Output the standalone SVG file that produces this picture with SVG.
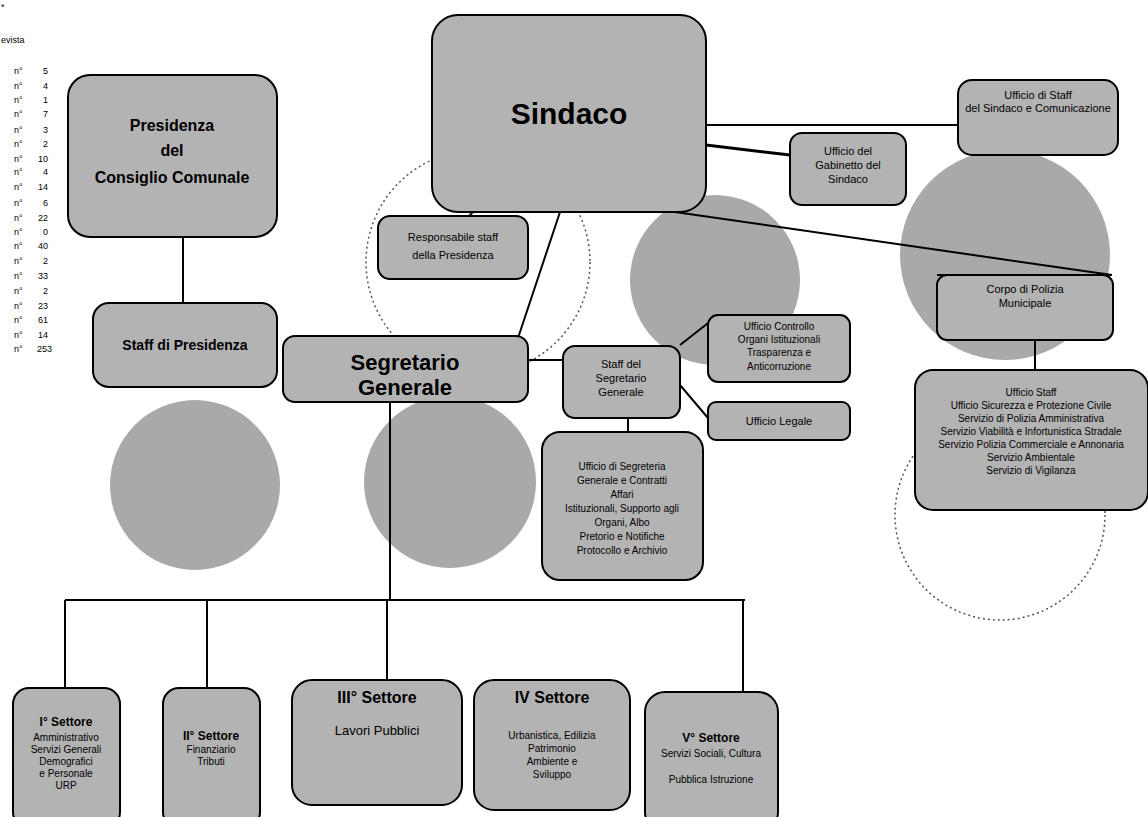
<svg xmlns="http://www.w3.org/2000/svg" width="1148" height="817" viewBox="0 0 1148 817">
<style>
.bx{fill:#b3b3b3;stroke:#000;stroke-width:2}
.blob{fill:#a9a9a9;stroke:none}
.ring{fill:none;stroke:#555;stroke-width:1.5;stroke-dasharray:2 3}
.c{stroke:#000;stroke-width:2;fill:none}
text{font-family:"Liberation Sans",Arial,sans-serif;fill:#000;text-anchor:middle}
.t1{font-size:30px;font-weight:bold}
.t2{font-size:22px;font-weight:bold}
.t3{font-size:16px;font-weight:bold}
.t4{font-size:11px}
.t5{font-size:10px}
.lg{font-size:9px;text-anchor:start}
.lr{font-size:9px;text-anchor:end}
</style>
<rect width="1148" height="817" fill="#fff"/>
<g id="legend">
<text class="lg" x="1" y="10">*</text>
<text class="lg" x="1" y="43">evista</text>
<text class="lg" x="14" y="74">n°</text><text class="lr" x="48" y="74">5</text>
<text class="lg" x="14" y="89">n°</text><text class="lr" x="48" y="89">4</text>
<text class="lg" x="14" y="103">n°</text><text class="lr" x="48" y="103">1</text>
<text class="lg" x="14" y="117">n°</text><text class="lr" x="48" y="117">7</text>
<text class="lg" x="14" y="133">n°</text><text class="lr" x="48" y="133">3</text>
<text class="lg" x="14" y="147">n°</text><text class="lr" x="48" y="147">2</text>
<text class="lg" x="14" y="162">n°</text><text class="lr" x="48" y="162">10</text>
<text class="lg" x="14" y="175">n°</text><text class="lr" x="48" y="175">4</text>
<text class="lg" x="14" y="190">n°</text><text class="lr" x="48" y="190">14</text>
<text class="lg" x="14" y="206">n°</text><text class="lr" x="48" y="206">6</text>
<text class="lg" x="14" y="221">n°</text><text class="lr" x="48" y="221">22</text>
<text class="lg" x="14" y="235">n°</text><text class="lr" x="48" y="235">0</text>
<text class="lg" x="14" y="249">n°</text><text class="lr" x="48" y="249">40</text>
<text class="lg" x="14" y="264">n°</text><text class="lr" x="48" y="264">2</text>
<text class="lg" x="14" y="279">n°</text><text class="lr" x="48" y="279">33</text>
<text class="lg" x="14" y="294">n°</text><text class="lr" x="48" y="294">2</text>
<text class="lg" x="14" y="309">n°</text><text class="lr" x="48" y="309">23</text>
<text class="lg" x="14" y="323">n°</text><text class="lr" x="48" y="323">61</text>
<text class="lg" x="14" y="338">n°</text><text class="lr" x="48" y="338">14</text>
<text class="lg" x="14" y="352">n°</text><text class="lr" x="52" y="352">253</text>
</g>
<g id="decor">
<circle class="blob" cx="195" cy="485" r="85"/>
<circle class="blob" cx="450" cy="482" r="86"/>
<circle class="blob" cx="715" cy="280" r="85"/>
<circle class="blob" cx="1005" cy="255" r="105"/>
<circle class="ring" cx="478" cy="262" r="112"/>
<circle class="ring" cx="1000" cy="515" r="105"/>
</g>
<g id="connectors">
<line class="c" x1="183" y1="237" x2="183" y2="303"/>
<line class="c" x1="560" y1="212" x2="518" y2="338"/>
<line class="c" x1="480" y1="205" x2="468" y2="217"/>
<line class="c" x1="706" y1="125" x2="958" y2="125"/>
<line class="c" x1="706" y1="145" x2="790" y2="155" style="stroke-width:3"/>
<line class="c" x1="640" y1="207" x2="1112" y2="275"/>
<line class="c" x1="937" y1="275" x2="1112" y2="275"/>
<line class="c" x1="1035" y1="340" x2="1035" y2="370"/>
<line class="c" x1="528" y1="360" x2="563" y2="360"/>
<line class="c" x1="680" y1="345" x2="712" y2="320"/>
<line class="c" x1="680" y1="385" x2="708" y2="418"/>
<line class="c" x1="628" y1="418" x2="628" y2="434"/>
<line class="c" x1="390" y1="402" x2="390" y2="600"/>
<line class="c" x1="65" y1="600" x2="745" y2="600"/>
<line class="c" x1="65" y1="600" x2="65" y2="688"/>
<line class="c" x1="207" y1="600" x2="207" y2="688"/>
<line class="c" x1="387" y1="600" x2="387" y2="680"/>
<line class="c" x1="743" y1="600" x2="743" y2="692"/>
</g>
<g id="presidenza">
<rect class="bx" x="68" y="75" width="209" height="162" rx="22"/>
<text class="t3" x="172" y="131">Presidenza</text>
<text class="t3" x="172" y="156">del</text>
<text class="t3" x="172" y="183">Consiglio Comunale</text>
</g>
<g id="staff-presidenza">
<rect class="bx" x="93" y="303" width="184" height="84" rx="16"/>
<text x="185" y="350" style="font-size:14px;font-weight:bold">Staff di Presidenza</text>
</g>
<g id="sindaco">
<rect class="bx" x="432" y="15" width="274" height="197" rx="26"/>
<text class="t1" x="569" y="124">Sindaco</text>
</g>
<g id="responsabile-staff">
<rect class="bx" x="378" y="216" width="150" height="63" rx="12"/>
<text class="t4" x="453" y="241">Responsabile staff</text>
<text class="t4" x="453" y="259">della Presidenza</text>
</g>
<g id="ufficio-staff-sindaco">
<rect class="bx" x="958" y="80" width="160" height="75" rx="14"/>
<text class="t4" x="1038" y="99">Ufficio di Staff</text>
<text class="t4" x="1038" y="112">del Sindaco e Comunicazione</text>
</g>
<g id="ufficio-gabinetto">
<rect class="bx" x="790" y="133" width="116" height="72" rx="12"/>
<text class="t4" x="848" y="155">Ufficio del</text>
<text class="t4" x="848" y="169">Gabinetto del</text>
<text class="t4" x="848" y="183">Sindaco</text>
</g>
<g id="polizia-municipale">
<rect class="bx" x="937" y="275" width="176" height="65" rx="10"/>
<text class="t4" x="1025" y="293">Corpo di Polizia</text>
<text class="t4" x="1025" y="307">Municipale</text>
</g>
<g id="servizi-polizia">
<rect class="bx" x="915" y="370" width="233" height="140" rx="18"/>
<text class="t5" x="1031" y="396">Ufficio Staff</text>
<text class="t5" x="1031" y="409">Ufficio Sicurezza e Protezione Civile</text>
<text class="t5" x="1031" y="422">Servizio di Polizia Amministrativa</text>
<text class="t5" x="1031" y="435">Servizio Viabilità e Infortunistica Stradale</text>
<text class="t5" x="1031" y="448">Servizio Polizia Commerciale e Annonaria</text>
<text class="t5" x="1031" y="461">Servizio Ambientale</text>
<text class="t5" x="1031" y="474">Servizio di Vigilanza</text>
</g>
<g id="segretario">
<rect class="bx" x="283" y="336" width="245" height="66" rx="12"/>
<text class="t2" x="405" y="370">Segretario</text>
<text class="t2" x="405" y="395">Generale</text>
</g>
<g id="staff-segretario">
<rect class="bx" x="563" y="346" width="117" height="72" rx="12"/>
<text class="t4" x="621" y="368">Staff del</text>
<text class="t4" x="621" y="382">Segretario</text>
<text class="t4" x="621" y="396">Generale</text>
</g>
<g id="ufficio-controllo">
<rect class="bx" x="708" y="315" width="142" height="67" rx="10"/>
<text class="t5" x="779" y="330">Ufficio Controllo</text>
<text class="t5" x="779" y="343">Organi Istituzionali</text>
<text class="t5" x="779" y="356">Trasparenza e</text>
<text class="t5" x="779" y="370">Anticorruzione</text>
</g>
<g id="ufficio-legale">
<rect class="bx" x="708" y="402" width="142" height="38" rx="8"/>
<text class="t4" x="779" y="425">Ufficio Legale</text>
</g>
<g id="segreteria-generale">
<rect class="bx" x="542" y="432" width="161" height="148" rx="18"/>
<text class="t5" x="622" y="470">Ufficio di Segreteria</text>
<text class="t5" x="622" y="484">Generale e Contratti</text>
<text class="t5" x="622" y="498">Affari</text>
<text class="t5" x="622" y="512">Istituzionali, Supporto agli</text>
<text class="t5" x="622" y="526">Organi, Albo</text>
<text class="t5" x="622" y="540">Pretorio e Notifiche</text>
<text class="t5" x="622" y="554">Protocollo e Archivio</text>
</g>
<g id="settore-1">
<rect class="bx" x="13" y="688" width="107" height="140" rx="16"/>
<text x="66" y="726" style="font-weight:bold;font-size:12px">I° Settore</text>
<text class="t5" x="66" y="741">Amministrativo</text>
<text class="t5" x="66" y="753">Servizi Generali</text>
<text class="t5" x="66" y="765">Demografici</text>
<text class="t5" x="66" y="777">e Personale</text>
<text class="t5" x="66" y="789">URP</text>
</g>
<g id="settore-2">
<rect class="bx" x="163" y="688" width="97" height="140" rx="16"/>
<text x="211" y="740" style="font-weight:bold;font-size:12px">II° Settore</text>
<text class="t5" x="211" y="753">Finanziario</text>
<text class="t5" x="211" y="765">Tributi</text>
</g>
<g id="settore-3">
<rect class="bx" x="292" y="680" width="170" height="125" rx="20"/>
<text class="t3" x="377" y="703">III° Settore</text>
<text x="377" y="735" style="font-size:13px">Lavori Pubblici</text>
</g>
<g id="settore-4">
<rect class="bx" x="474" y="680" width="156" height="130" rx="20"/>
<text class="t3" x="552" y="703">IV Settore</text>
<text class="t5" x="552" y="739">Urbanistica, Edilizia</text>
<text class="t5" x="552" y="752">Patrimonio</text>
<text class="t5" x="552" y="765">Ambiente e</text>
<text class="t5" x="552" y="778">Sviluppo</text>
</g>
<g id="settore-5">
<rect class="bx" x="645" y="692" width="133" height="140" rx="20"/>
<text x="711" y="742" style="font-weight:bold;font-size:12px">V° Settore</text>
<text class="t5" x="711" y="757">Servizi Sociali, Cultura</text>
<text class="t5" x="711" y="783">Pubblica Istruzione</text>
</g>
</svg>
